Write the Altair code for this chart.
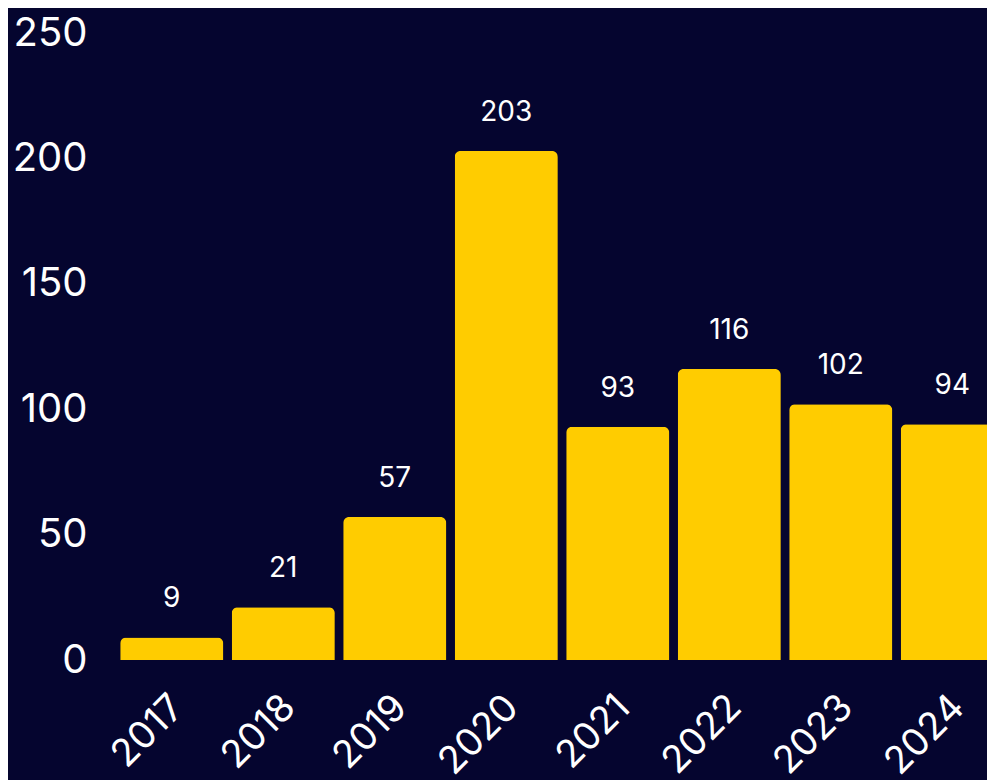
import altair as alt
import pandas as pd

years = ["2017", "2018", "2019", "2020", "2021", "2022", "2023", "2024"]
counts = [9, 21, 57, 203, 93, 116, 102, 94]

df = pd.DataFrame({"year": years, "count": counts})

BG = "#05052F"
BAR = "#FFCC00"
FONT = "Inter"

base = alt.Chart(df).encode(
    x=alt.X("year:N", sort=years, title=None,
            scale=alt.Scale(paddingInner=0.075, paddingOuter=0.0375),
            axis=alt.Axis(labelAngle=-45, labelFontSize=38, labelColor="white",
                          labelFont=FONT, domain=False, ticks=False,
                          labelPadding=28, labelOffset=-7)),
    y=alt.Y("count:Q", title=None,
            scale=alt.Scale(domain=[0, 250]),
            axis=alt.Axis(values=[0, 50, 100, 150, 200, 250], labelFontSize=40,
                          labelColor="white", labelFont=FONT, domain=False,
                          ticks=False, grid=False, labelPadding=29)),
)

bars = base.mark_bar(color=BAR, cornerRadiusTopLeft=6, cornerRadiusTopRight=6)
labels = base.mark_text(color="white", font=FONT, fontSize=28, baseline="bottom",
                        dy=-24).encode(text="count:Q")

chart = (bars + labels).properties(
    width=892, height=627, background=BG,
    autosize=alt.AutoSizeParams(type="none"),
    padding={"left": 108, "top": 25, "right": -21, "bottom": 120},
).configure_view(stroke=None)

chart.save("out.html", embed_options={"renderer": "svg", "actions": False})
